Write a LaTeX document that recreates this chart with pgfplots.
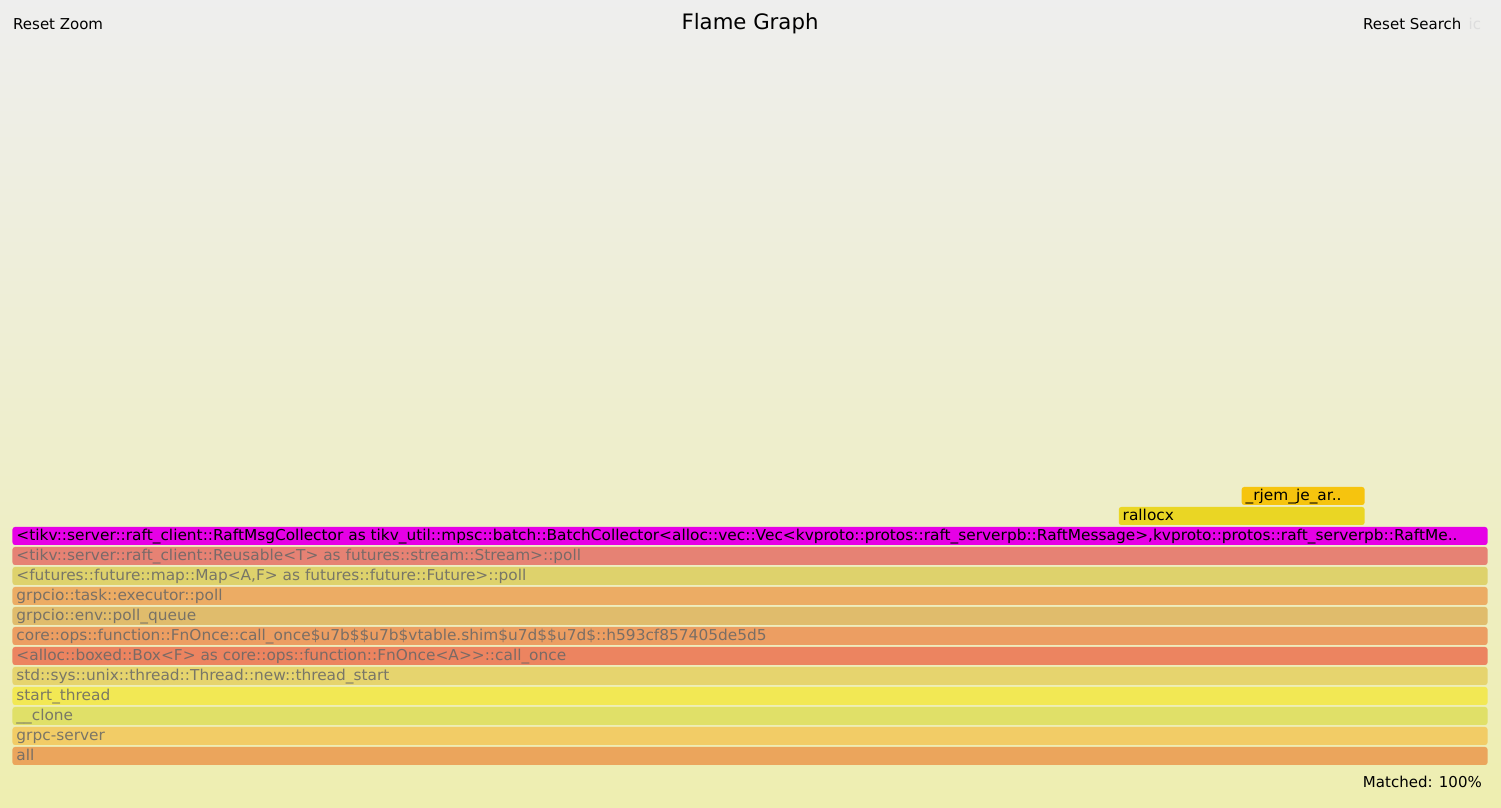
\documentclass[border=0pt]{standalone}
\usepackage{pgfplots}
\pgfplotsset{compat=1.18}
\usepackage{fontspec}
\setmainfont{DejaVu Sans}[Ligatures=TeXOff]
\newfontfamily\barfont{DejaVu Sans}[Ligatures=TeXOff, FakeStretch=1.025]
\definecolor{bgtop}{HTML}{EEEEEE}
\definecolor{bgbot}{HTML}{EEEEB0}
\definecolor{c0}{HTML}{EBA55C}
\definecolor{c1}{HTML}{F2CC66}
\definecolor{c2}{HTML}{E0E068}
\definecolor{c3}{HTML}{F2E854}
\definecolor{c4}{HTML}{E6D46E}
\definecolor{c5}{HTML}{EC8460}
\definecolor{c6}{HTML}{EC9E62}
\definecolor{c7}{HTML}{E0BC6C}
\definecolor{c8}{HTML}{ECAC64}
\definecolor{c9}{HTML}{DED26C}
\definecolor{c10}{HTML}{E68274}
\definecolor{c11}{HTML}{E600E6}
\definecolor{c12}{HTML}{EAD624}
\definecolor{c13}{HTML}{F6C40E}
\definecolor{icgray}{HTML}{DDDDDD}
\definecolor{dimtext}{HTML}{666666}
\newcommand\lbl{\fontsize{15}{18}\selectfont}
\newcommand\blbl{\barfont\fontsize{15}{18}\selectfont}
\tikzset{
  flame/.style={draw=none, rounded corners=2.5pt},
  lab/.style={anchor=base west, inner sep=0pt, xshift=3.75pt, font=\blbl, text=dimtext, text opacity=0.85},
  labk/.style={anchor=base west, inner sep=0pt, xshift=3.75pt, font=\blbl},
}
\begin{document}
\begin{tikzpicture}
\begin{axis}[
  scale only axis, width=1501pt, height=808pt,
  xmin=-0.10169, xmax=12.1098,
  ymin=-2.15, ymax=38.25,
  hide axis, clip=false, no markers,
]
\fill[top color=bgtop, bottom color=bgbot] (rel axis cs:0,0) rectangle (rel axis cs:1,1);
% frames: (start, depth) -- (end, depth+0.9), x in samples (12 total)
\addplot[flame, fill=c0]  coordinates {(0,0) (12,0) (12,0.9) (0,0.9)} -- cycle;
\addplot[flame, fill=c1]  coordinates {(0,1) (12,1) (12,1.9) (0,1.9)} -- cycle;
\addplot[flame, fill=c2]  coordinates {(0,2) (12,2) (12,2.9) (0,2.9)} -- cycle;
\addplot[flame, fill=c3]  coordinates {(0,3) (12,3) (12,3.9) (0,3.9)} -- cycle;
\addplot[flame, fill=c4]  coordinates {(0,4) (12,4) (12,4.9) (0,4.9)} -- cycle;
\addplot[flame, fill=c5]  coordinates {(0,5) (12,5) (12,5.9) (0,5.9)} -- cycle;
\addplot[flame, fill=c6]  coordinates {(0,6) (12,6) (12,6.9) (0,6.9)} -- cycle;
\addplot[flame, fill=c7]  coordinates {(0,7) (12,7) (12,7.9) (0,7.9)} -- cycle;
\addplot[flame, fill=c8]  coordinates {(0,8) (12,8) (12,8.9) (0,8.9)} -- cycle;
\addplot[flame, fill=c9]  coordinates {(0,9) (12,9) (12,9.9) (0,9.9)} -- cycle;
\addplot[flame, fill=c10] coordinates {(0,10) (12,10) (12,10.9) (0,10.9)} -- cycle;
\addplot[flame, fill=c11] coordinates {(0,11) (12,11) (12,11.9) (0,11.9)} -- cycle;
\addplot[flame, fill=c12] coordinates {(9,12) (11,12) (11,12.9) (9,12.9)} -- cycle;
\addplot[flame, fill=c13] coordinates {(10,13) (11,13) (11,13.9) (10,13.9)} -- cycle;
% labels
\node[lab] at (axis cs:0,0.2) {all};
\node[lab] at (axis cs:0,1.2) {grpc-server};
\node[lab] at (axis cs:0,2.2) {\_\_clone};
\node[lab] at (axis cs:0,3.2) {start\_thread};
\node[lab] at (axis cs:0,4.2) {std::sys::unix::thread::Thread::new::thread\_start};
\node[lab] at (axis cs:0,5.2) {<alloc::boxed::Box<F> as core::ops::function::FnOnce<A>{}>::call\_once};
\node[lab] at (axis cs:0,6.2) {core::ops::function::FnOnce::call\_once\$u7b\$\$u7b\$vtable.shim\$u7d\$\$u7d\$::h593cf857405de5d5};
\node[lab] at (axis cs:0,7.2) {grpcio::env::poll\_queue};
\node[lab] at (axis cs:0,8.2) {grpcio::task::executor::poll};
\node[lab] at (axis cs:0,9.2) {<futures::future::map::Map<A,F> as futures::future::Future>::poll};
\node[lab] at (axis cs:0,10.2) {<tikv::server::raft\_client::Reusable<T> as futures::stream::Stream>::poll};
\node[labk] at (axis cs:0,11.2) {<tikv::server::raft\_client::RaftMsgCollector as tikv\_util::mpsc::batch::BatchCollector<alloc::vec::Vec<kvproto::protos::raft\_serverpb::RaftMessage>,kvproto::protos::raft\_serverpb::RaftMe..};
\node[labk] at (axis cs:9,12.2) {rallocx};
\node[labk] at (axis cs:10,13.2) {\_rjem\_je\_ar..};
% header / footer texts
\node[anchor=base west, inner sep=0pt, font=\lbl] at (rel axis cs:0.00866,0.96287) {Reset Zoom};
\node[anchor=base, inner sep=0pt, font=\fontsize{21.25}{25}\selectfont] at (rel axis cs:0.4997,0.96287) {Flame Graph};
\node[anchor=base west, inner sep=0pt, font=\lbl] at (rel axis cs:0.90806,0.96287) {Reset Search};
\node[anchor=base west, inner sep=0pt, font=\lbl, text=icgray] at (rel axis cs:0.97835,0.96287) {ic};
\node[anchor=base east, inner sep=0pt, font=\lbl] at (rel axis cs:0.98734,0.02599) {Matched: 100\%};
\end{axis}
\end{tikzpicture}
\end{document}
